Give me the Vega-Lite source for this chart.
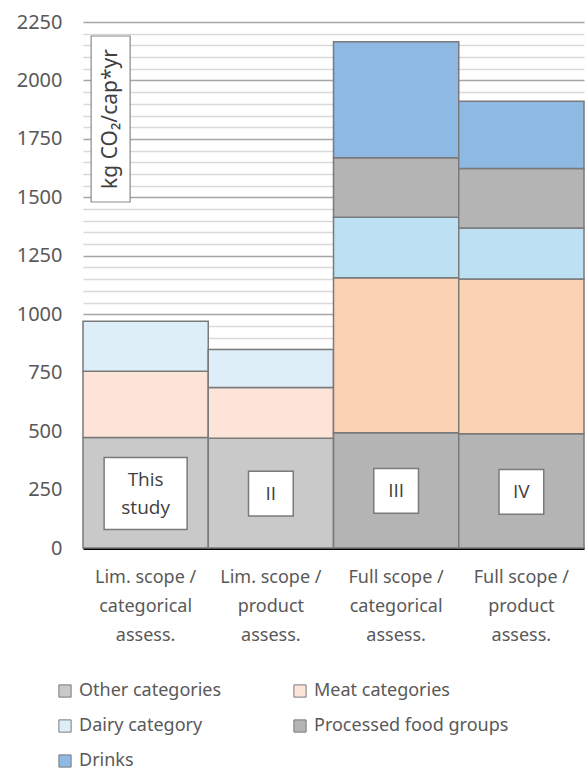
{
  "$schema": "https://vega.github.io/schema/vega-lite/v6.json",
  "width": 501,
  "height": 526,
  "autosize": {"type": "none"},
  "padding": {"left": 83, "top": 22, "right": 2, "bottom": 225},
  "background": "white",
  "config": {
    "font": "Noto Sans",
    "view": {"stroke": null}
  },
  "datasets": {
    "bars": [
      {"category": "Lim. scope / categorical assess.", "segment": "Other categories", "rank": 1, "value": 473},
      {"category": "Lim. scope / categorical assess.", "segment": "Meat categories", "rank": 2, "value": 283},
      {"category": "Lim. scope / categorical assess.", "segment": "Dairy category", "rank": 3, "value": 214},
      {"category": "Lim. scope / product assess.", "segment": "Other categories", "rank": 1, "value": 469},
      {"category": "Lim. scope / product assess.", "segment": "Meat categories", "rank": 2, "value": 218},
      {"category": "Lim. scope / product assess.", "segment": "Dairy category", "rank": 3, "value": 162},
      {"category": "Full scope / categorical assess.", "segment": "Other categories (full scope)", "rank": 1, "value": 493},
      {"category": "Full scope / categorical assess.", "segment": "Meat categories (full scope)", "rank": 2, "value": 663},
      {"category": "Full scope / categorical assess.", "segment": "Dairy category (full scope)", "rank": 3, "value": 259},
      {"category": "Full scope / categorical assess.", "segment": "Processed food groups", "rank": 4, "value": 254},
      {"category": "Full scope / categorical assess.", "segment": "Drinks", "rank": 5, "value": 497},
      {"category": "Full scope / product assess.", "segment": "Other categories (full scope)", "rank": 1, "value": 489},
      {"category": "Full scope / product assess.", "segment": "Meat categories (full scope)", "rank": 2, "value": 662},
      {"category": "Full scope / product assess.", "segment": "Dairy category (full scope)", "rank": 3, "value": 218},
      {"category": "Full scope / product assess.", "segment": "Processed food groups", "rank": 4, "value": 254},
      {"category": "Full scope / product assess.", "segment": "Drinks", "rank": 5, "value": 288}
    ],
    "boxes": [
      {"category": "Lim. scope / product assess.", "label": "II", "value": 233},
      {"category": "Full scope / categorical assess.", "label": "III", "value": 244},
      {"category": "Full scope / product assess.", "label": "IV", "value": 240}
    ],
    "study": [
      {"category": "Lim. scope / categorical assess.", "label": "This study", "value": 233}
    ],
    "unit": [
      {"category": "Lim. scope / categorical assess.", "label": "kg CO₂/cap*yr", "value": 1835}
    ]
  },
  "encoding": {
    "x": {
      "field": "category",
      "type": "nominal",
      "sort": null,
      "scale": {"paddingInner": 0, "paddingOuter": 0, "domain": ["Lim. scope / categorical assess.", "Lim. scope / product assess.", "Full scope / categorical assess.", "Full scope / product assess."]},
      "axis": {
        "title": null,
        "labelAngle": 0,
        "labelFontSize": 18,
        "labelColor": "#595959",
        "labelLineHeight": 29,
        "labelPadding": 20,
        "ticks": false,
        "domainColor": "#000000",
        "domainWidth": 3,
        "labelExpr": "[join(slice(split(datum.label, ' '), 0, 3), ' '), split(datum.label, ' ')[3], split(datum.label, ' ')[4]]"
      }
    },
    "y": {
      "field": "value",
      "type": "quantitative",
      "scale": {"domain": [0, 2250], "nice": false},
      "axis": {
        "title": null,
        "values": [0,50,100,150,200,250,300,350,400,450,500,550,600,650,700,750,800,850,900,950,1000,1050,1100,1150,1200,1250,1300,1350,1400,1450,1500,1550,1600,1650,1700,1750,1800,1850,1900,1950,2000,2050,2100,2150,2200,2250],
        "labelExpr": "datum.value % 250 === 0 ? datum.label : ''",
        "labelOverlap": false,
        "format": "d",
        "ticks": false,
        "domain": false,
        "labelFontSize": 20,
        "labelColor": "#595959",
        "labelPadding": 21,
        "grid": true,
        "gridColor": {"condition": {"test": "datum.value % 250 === 0", "value": "#a6a6a6"}, "value": "#d9d9d9"},
        "gridWidth": 1.5
      }
    }
  },
  "layer": [
    {
      "data": {"name": "bars"},
      "mark": {"type": "bar", "stroke": "#7a7a7a", "strokeWidth": 1.5},
      "encoding": {
        "y": {
          "field": "value",
          "type": "quantitative",
          "aggregate": "sum",
          "stack": "zero",
          "scale": {"domain": [0, 2250], "nice": false},
          "axis": {
            "title": null,
            "values": [0,50,100,150,200,250,300,350,400,450,500,550,600,650,700,750,800,850,900,950,1000,1050,1100,1150,1200,1250,1300,1350,1400,1450,1500,1550,1600,1650,1700,1750,1800,1850,1900,1950,2000,2050,2100,2150,2200,2250],
            "labelExpr": "datum.value % 250 === 0 ? datum.label : ''",
            "labelOverlap": false,
            "format": "d",
            "ticks": false,
            "domain": false,
            "labelFontSize": 20,
            "labelColor": "#595959",
            "labelPadding": 21,
            "grid": true,
            "gridColor": {"condition": {"test": "datum.value % 250 === 0", "value": "#a6a6a6"}, "value": "#d9d9d9"},
            "gridWidth": 1.5
          }
        },
        "color": {
          "field": "segment",
          "type": "nominal",
          "scale": {
            "domain": ["Other categories", "Dairy category", "Drinks", "Meat categories", "Processed food groups", "Other categories (full scope)", "Meat categories (full scope)", "Dairy category (full scope)"],
            "range": ["#c9c9c9", "#ddeef8", "#8db9e3", "#fce5d8", "#b4b4b4", "#b4b4b4", "#fcd2b5", "#bde0f2"]
          },
          "legend": {
            "title": null,
            "values": ["Other categories", "Dairy category", "Drinks", "Meat categories", "Processed food groups"],
            "orient": "none",
            "legendX": -27,
            "legendY": 660,
            "columns": 2,
            "columnPadding": 69,
            "rowPadding": 17,
            "symbolType": "square",
            "symbolSize": 150,
            "symbolStrokeColor": "#7a7a7a",
            "symbolStrokeWidth": 1,
            "symbolOpacity": 1,
            "labelFont": "Noto Sans",
            "labelFontSize": 18,
            "labelColor": "#595959",
            "labelOffset": 5,
            "labelLimit": 300
          }
        },
        "order": {"field": "rank", "type": "quantitative"}
      }
    },
    {
      "data": {"name": "boxes"},
      "mark": {"type": "point", "shape": "square", "size": 2000, "filled": true, "fill": "white", "stroke": "#7a7a7a", "strokeWidth": 1.5, "opacity": 1}
    },
    {
      "data": {"name": "boxes"},
      "mark": {"type": "text", "font": "Open Sans", "fontSize": 19, "color": "#404040", "baseline": "middle", "align": "center"},
      "encoding": {
        "text": {"field": "label"}
      }
    },
    {
      "data": {"name": "study"},
      "mark": {"type": "point", "shape": "M-1,-0.867H1V0.867H-1Z", "size": 6889, "filled": true, "fill": "white", "stroke": "#7a7a7a", "strokeWidth": 1.5, "opacity": 1}
    },
    {
      "data": {"name": "study"},
      "mark": {"type": "text", "font": "Open Sans", "fontSize": 19, "color": "#404040", "baseline": "middle", "align": "center", "lineBreak": " ", "lineHeight": 28, "dy": -14},
      "encoding": {
        "text": {"field": "label"}
      }
    },
    {
      "data": {"name": "unit"},
      "mark": {"type": "point", "shape": "M-0.235,-1H0.235V1H-0.235Z", "size": 27556, "filled": true, "fill": "white", "stroke": "#8a8a8a", "strokeWidth": 1.2, "opacity": 1, "xOffset": -35}
    },
    {
      "data": {"name": "unit"},
      "mark": {"type": "text", "font": "Noto Sans", "fontSize": 21, "color": "#404040", "baseline": "middle", "align": "center", "angle": 270, "xOffset": -35},
      "encoding": {
        "text": {"field": "label"}
      }
    }
  ]
}
